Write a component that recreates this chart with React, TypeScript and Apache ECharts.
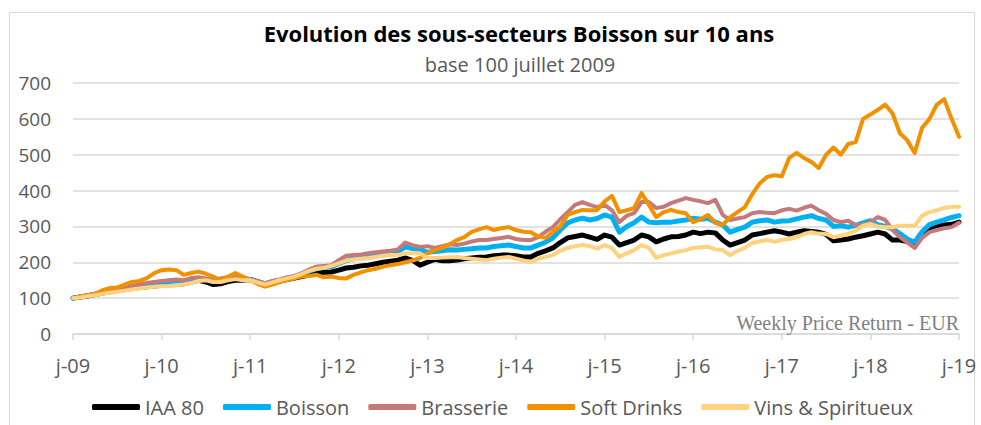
import React, { useEffect, useRef } from "react";
import * as echarts from "echarts";

// monthly points from Jul 2009 (index 0) to Jul 2019 (index 120)
const months: string[] = Array.from({ length: 121 }, (_, i) => String(i));
const yearLabels = ["j-09", "j-10", "j-11", "j-12", "j-13", "j-14", "j-15", "j-16", "j-17", "j-18", "j-19"];
const seriesNames = ["IAA 80", "Boisson", "Brasserie", "Soft Drinks", "Vins & Spiritueux"];

const iaa80 = [
  100, 103, 106, 110, 114, 118, 121, 124, 127, 130, 132, 134, 136, 138, 138, 140, 145, 150, 145, 138,
  140, 146, 150, 150, 152, 146, 138, 143, 148, 152, 156, 160, 165, 170, 172, 173, 178, 184, 186, 190,
  192, 196, 200, 203, 206, 212, 205, 192, 200, 208, 204, 204, 206, 210, 212, 214, 215, 218, 220, 220,
  218, 215, 215, 225, 232, 240, 255, 268, 272, 276, 270, 264, 276, 270, 248, 255, 262, 276, 271, 257,
  265, 271, 272, 276, 284, 280, 284, 282, 262, 248, 255, 262, 276, 280, 284, 288, 284, 279, 284, 288,
  286, 284, 278, 260, 262, 265, 270, 274, 279, 284, 279, 262, 262, 258, 252, 274, 290, 300, 304, 306,
  312,
];
const boisson = [
  100, 103, 107, 111, 116, 120, 124, 128, 132, 135, 138, 140, 142, 140, 142, 145, 150, 155, 152, 148,
  152, 156, 158, 155, 152, 146, 140, 146, 150, 156, 160, 166, 175, 182, 186, 188, 196, 205, 210, 212,
  215, 218, 220, 225, 230, 243, 238, 236, 228, 230, 232, 235, 234, 236, 238, 240, 240, 244, 246, 248,
  244, 240, 240, 248, 256, 268, 290, 310, 318, 323, 318, 322, 332, 326, 284, 300, 310, 326, 312, 310,
  312, 312, 315, 318, 323, 320, 323, 312, 304, 284, 292, 298, 312, 316, 318, 312, 315, 316, 321, 326,
  330, 322, 318, 300, 302, 298, 303, 310, 316, 305, 300, 293, 280, 265, 256, 285, 305, 312, 318, 325,
  330,
];
const brasserie = [
  100, 104, 108, 112, 118, 122, 126, 130, 134, 138, 142, 145, 148, 150, 152, 150, 156, 158, 155, 150,
  155, 158, 160, 156, 152, 147, 142, 148, 152, 158, 162, 170, 180, 188, 190, 192, 206, 218, 220, 222,
  225, 228, 230, 232, 236, 255, 248, 243, 245, 240, 245, 250, 248, 252, 258, 262, 262, 265, 268, 271,
  265, 262, 262, 270, 285, 298, 320, 340, 360, 368, 360, 354, 360, 345, 312, 330, 337, 368, 368, 351,
  355, 365, 372, 379, 374, 370, 365, 374, 332, 318, 322, 326, 337, 340, 338, 337, 345, 349, 344, 352,
  358, 345, 335, 318, 312, 316, 304, 305, 312, 326, 318, 290, 270, 255, 240, 268, 284, 290, 295, 298,
  310,
];
const softDrinks = [
  100, 105, 108, 112, 122, 128, 130, 138, 145, 148, 156, 170, 178, 180, 178, 165, 170, 174, 168, 160,
  150, 160, 170, 160, 150, 140, 132, 138, 145, 150, 155, 160, 162, 165, 158, 160, 156, 155, 165, 172,
  178, 182, 188, 192, 195, 200, 205, 212, 225, 234, 240, 250, 262, 270, 285, 292, 298, 290, 295, 298,
  290, 285, 284, 272, 268, 284, 300, 332, 340, 346, 345, 346, 370, 385, 340, 345, 351, 393, 360, 326,
  340, 346, 340, 337, 312, 320, 332, 310, 304, 326, 340, 354, 390, 420, 438, 443, 440, 491, 505, 491,
  480, 463, 500, 520, 500, 530, 535, 600, 612, 625, 640, 615, 560, 540, 505, 575, 600, 640, 655, 600,
  550,
];
const vins = [
  100, 102, 105, 108, 112, 115, 118, 121, 124, 127, 130, 132, 133, 134, 136, 138, 142, 148, 150, 145,
  145, 150, 153, 150, 150, 144, 138, 144, 150, 155, 160, 168, 176, 182, 185, 190, 197, 205, 208, 210,
  212, 215, 218, 220, 220, 225, 225, 225, 212, 212, 213, 214, 215, 212, 210, 208, 206, 210, 213, 215,
  210, 205, 200, 210, 215, 220, 232, 240, 245, 248, 245, 238, 248, 240, 215, 225, 234, 248, 240, 212,
  220, 225, 230, 234, 240, 242, 243, 236, 234, 220, 232, 240, 254, 258, 262, 257, 262, 265, 270, 279,
  284, 280, 279, 270, 274, 280, 288, 302, 307, 300, 298, 298, 302, 302, 302, 330, 340, 345, 352, 354,
  355,
];

const seriesData = [iaa80, boisson, brasserie, softDrinks, vins];
const colors = ["#000000", "#00B0F0", "#C47A7A", "#F29100", "#FFD27F"];
const widths = [5, 5, 4, 4, 4];

const FONT = "'Open Sans', Lato, sans-serif";

export default function App() {
  const ref = useRef<HTMLDivElement>(null);
  useEffect(() => {
    if (!ref.current) return;
    const chart = echarts.init(ref.current, undefined, { renderer: "svg" });
    chart.setOption({
      animation: false,
      backgroundColor: "#ffffff",
      title: [
        {
          text: "Evolution des sous-secteurs Boisson sur 10 ans",
          left: 514,
          top: 17,
          textAlign: "center",
          textStyle: { fontFamily: FONT, fontSize: 22, fontWeight: "bold", color: "#000000" },
        },
        {
          text: "base 100 juillet 2009",
          left: 515,
          top: 49,
          textAlign: "center",
          textStyle: { fontFamily: FONT, fontSize: 20, fontWeight: "normal", color: "#595959" },
        },
      ],
      graphic: [
        {
          type: "rect",
          shape: { x: 9.5, y: 12.5, width: 965, height: 430 },
          style: { fill: "none", stroke: "#d9d9d9", lineWidth: 1 },
          silent: true,
          z: -10,
        },
        {
          type: "text",
          x: 959,
          y: 323,
          style: {
            text: "Weekly Price Return - EUR",
            fontFamily: "'Liberation Serif', 'DejaVu Serif', serif",
            fontSize: 20,
            fill: "#7f7f7f",
            textAlign: "right",
            textVerticalAlign: "middle",
          },
          z: 10,
        },
      ],
      legend: {
        data: seriesNames,
        left: 87,
        top: 392,
        itemWidth: 48,
        itemHeight: 6,
        itemGap: 19,
        icon: "roundRect",
        textStyle: { fontFamily: FONT, fontSize: 20, color: "#595959" },
      },
      grid: { left: 73, right: 22, top: 83, bottom: 91, containLabel: false },
      xAxis: {
        type: "category",
        data: months,
        boundaryGap: false,
        axisLine: { show: true, lineStyle: { color: "#d9d9d9", width: 1.5 } },
        axisTick: {
          show: true,
          length: 6,
          interval: (i: number) => i % 12 === 0,
          lineStyle: { color: "#d9d9d9", width: 1.5 },
        },
        axisLabel: {
          interval: (i: number) => i % 12 === 0,
          formatter: (_v: string, i: number) => yearLabels[Math.round(i / 12)] ?? "",
          margin: 21,
          fontFamily: FONT,
          fontSize: 20,
          color: "#595959",
        },
        splitLine: { show: false },
      },
      yAxis: {
        type: "value",
        min: 0,
        max: 700,
        interval: 100,
        axisLine: { show: false },
        axisTick: { show: false },
        axisLabel: { margin: 22, fontFamily: FONT, fontSize: 19, color: "#595959" },
        splitLine: { lineStyle: { color: "#d9d9d9", width: 1.5 } },
      },
      series: seriesNames.map((name, k) => ({
        name,
        type: "line",
        data: seriesData[k],
        symbol: "none",
        color: colors[k],
        lineStyle: { color: colors[k], width: widths[k], join: "round", cap: "round" },
        z: 2 + k,
      })),
    });
    return () => chart.dispose();
  }, []);
  return (
    <div
      ref={ref}
      style={{ position: "absolute", left: 0, top: 0, width: 981, height: 425 }}
    />
  );
}
